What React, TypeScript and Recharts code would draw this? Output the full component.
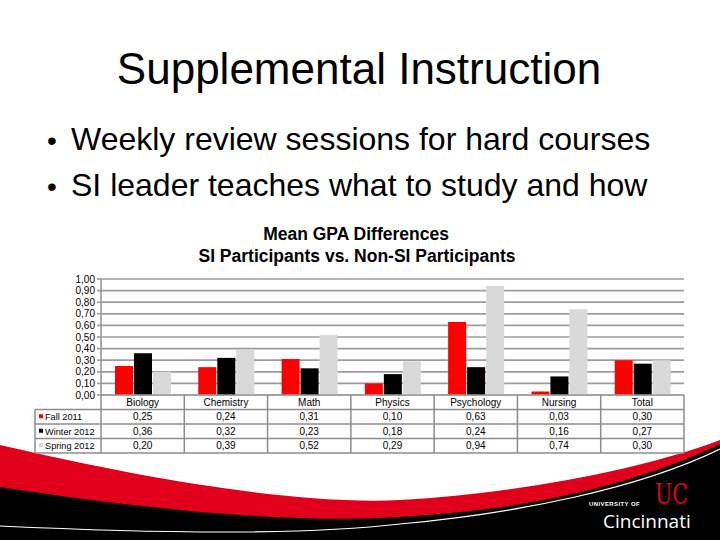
import { Bar, BarChart, CartesianGrid, XAxis, YAxis } from 'recharts';

const categories = ['Biology', 'Chemistry', 'Math', 'Physics', 'Psychology', 'Nursing', 'Total'];
const fall2011 = [0.25, 0.24, 0.31, 0.1, 0.63, 0.03, 0.3];
const winter2012 = [0.36, 0.32, 0.23, 0.18, 0.24, 0.16, 0.27];
const spring2012 = [0.2, 0.39, 0.52, 0.29, 0.94, 0.74, 0.3];
const seriesNames = ['Fall 2011', 'Winter 2012', 'Spring 2012'];
const seriesColors = ['#ff0000', '#000000', '#d9d9d9'];
const yTicks = [0, 0.1, 0.2, 0.3, 0.4, 0.5, 0.6, 0.7, 0.8, 0.9, 1.0];

const data = categories.map((name, i) => ({
  name,
  fall: fall2011[i],
  winter: winter2012[i],
  spring: spring2012[i],
}));
const seriesValues = [fall2011, winter2012, spring2012];

const FONT = '"Liberation Sans", Arial, sans-serif';
const GRID = '#9c9c9c';
const TABLE_LINE = '#8c8c8c';

// chart geometry (chart box sits at y=270 on the slide)
const CH_W = 720;
const CH_H = 200;
const MARGIN = { top: 9, right: 36, bottom: 15, left: 41 };
const Y_W = 60;
const X_H = 60;
const PLOT_LEFT = MARGIN.left + Y_W;
const COL_W = (CH_W - MARGIN.right - PLOT_LEFT) / categories.length;
const TABLE_TOP = CH_H - MARGIN.bottom - X_H;
const ROW_H = 14.5;
const LEGEND_LEFT = 35;

const fmt = (v: number) => v.toFixed(2).replace('.', ',');

function TableTick(props: any) {
  const { x, payload } = props;
  const i = categories.indexOf(payload.value);
  const left = x - COL_W / 2;
  const right = x + COL_W / 2;
  const bottom = TABLE_TOP + ROW_H * 4;
  const txt = { fontFamily: FONT, fontSize: 10, fill: '#000' };
  return (
    <g>
      <line x1={right} y1={TABLE_TOP} x2={right} y2={bottom} stroke={TABLE_LINE} strokeWidth={1.5} />
      {[1, 2, 3, 4].map((k) => (
        <line key={k} x1={left} y1={TABLE_TOP + ROW_H * k} x2={right} y2={TABLE_TOP + ROW_H * k} stroke={TABLE_LINE} strokeWidth={1.5} />
      ))}
      <text x={x} y={TABLE_TOP + ROW_H * 0.5 + 3.5} textAnchor="middle" {...txt}>
        {payload.value}
      </text>
      {seriesValues.map((vals, s) => (
        <text key={s} x={x} y={TABLE_TOP + ROW_H * (s + 1.5) + 3.5} textAnchor="middle" {...txt}>
          {fmt(vals[i])}
        </text>
      ))}
      {i === 0 && (
        <g>
          <line x1={left} y1={TABLE_TOP} x2={left} y2={bottom} stroke={TABLE_LINE} strokeWidth={1.5} />
          <line x1={LEGEND_LEFT} y1={TABLE_TOP + ROW_H} x2={LEGEND_LEFT} y2={bottom} stroke={TABLE_LINE} strokeWidth={1.5} />
          {[1, 2, 3, 4].map((k) => (
            <line key={k} x1={LEGEND_LEFT} y1={TABLE_TOP + ROW_H * k} x2={left} y2={TABLE_TOP + ROW_H * k} stroke={TABLE_LINE} strokeWidth={1.5} />
          ))}
          {seriesNames.map((n, s) => (
            <g key={n}>
              <rect x={LEGEND_LEFT + 4} y={TABLE_TOP + ROW_H * (s + 1.5) - 2.5} width={4} height={4} fill={seriesColors[s]} />
              <text x={LEGEND_LEFT + 10} y={TABLE_TOP + ROW_H * (s + 1.5) + 3.5} {...txt} fontSize={9.2}>
                {n}
              </text>
            </g>
          ))}
        </g>
      )}
    </g>
  );
}

function Background() {
  return (
    <svg width={720} height={540} style={{ position: 'absolute', left: 0, top: 0 }}>
      <text x={359} y={84} textAnchor="middle" fontFamily={FONT} fontSize={44} fill="#000">
        Supplemental Instruction
      </text>
      <text x={47} y={150} fontFamily={FONT} fontSize={28} fill="#000">•</text>
      <text x={71} y={150} fontFamily={FONT} fontSize={32} fill="#000">
        Weekly review sessions for hard courses
      </text>
      <text x={47} y={196} fontFamily={FONT} fontSize={28} fill="#000">•</text>
      <text x={71} y={196} fontFamily={FONT} fontSize={32} fill="#000">
        SI leader teaches what to study and how
      </text>
      <text x={356} y={240} textAnchor="middle" fontFamily={FONT} fontSize={17.5} fontWeight="bold" fill="#000">
        Mean GPA Differences
      </text>
      <text x={357} y={262} textAnchor="middle" fontFamily={FONT} fontSize={17.5} fontWeight="bold" fill="#000">
        SI Participants vs. Non-SI Participants
      </text>

      {/* footer swoosh */}
      <path d="M0,445 C150,480 300,505 400,500 C520,493 640,470 720,440 L720,540 L0,540 Z" fill="#e0001b" />
      <path d="M0,487 C150,510 280,522 380,518 C500,513 620,492 720,444 L720,540 L0,540 Z" fill="#000" />
      <path d="M0,526 C150,533 300,536 400,524 C520,513 640,488 720,449" fill="none" stroke="#fff" strokeWidth={1.2} />

      <text x={589} y={506} fontFamily={FONT} fontSize={6} fontWeight="bold" letterSpacing={0.4} fill="#fff">
        UNIVERSITY OF
      </text>
      <text x={603} y={528} fontFamily='"Open Sans", sans-serif' fontSize={19} fill="#fff">
        Cincinnati
      </text>
      <text
        x={655}
        y={504}
        fontFamily='"DejaVu Serif", serif'
        fontSize={28}
        fill="#e0001b"
        textLength={33}
        lengthAdjust="spacingAndGlyphs"
      >
        UC
      </text>
    </svg>
  );
}

export default function App() {
  return (
    <div style={{ position: 'absolute', left: 0, top: 0, width: 720, height: 540, background: '#fff', overflow: 'hidden' }}>
      <Background />
      <div style={{ position: 'absolute', left: 0, top: 270 }}>
        <BarChart width={CH_W} height={CH_H} data={data} margin={MARGIN} barSize={18} barGap={1}>
          <CartesianGrid vertical={false} stroke={GRID} strokeWidth={1.7} />
          <XAxis
            dataKey="name"
            height={X_H}
            interval={0}
            axisLine={{ stroke: GRID, strokeWidth: 1.7 }}
            tickLine={false}
            tick={<TableTick />}
          />
          <YAxis
            width={Y_W}
            domain={[0, 1]}
            ticks={yTicks}
            tickFormatter={(v) => fmt(v as number)}
            axisLine={{ stroke: GRID, strokeWidth: 1.7 }}
            tickLine={{ stroke: GRID, strokeWidth: 1.7 }}
            tickSize={4}
            tickMargin={2}
            tick={{ fontFamily: FONT, fontSize: 10, fill: '#000' }}
            interval={0}
          />
          <Bar dataKey="fall" name={seriesNames[0]} fill={seriesColors[0]} isAnimationActive={false} />
          <Bar dataKey="winter" name={seriesNames[1]} fill={seriesColors[1]} isAnimationActive={false} />
          <Bar dataKey="spring" name={seriesNames[2]} fill={seriesColors[2]} isAnimationActive={false} />
        </BarChart>
      </div>
    </div>
  );
}
